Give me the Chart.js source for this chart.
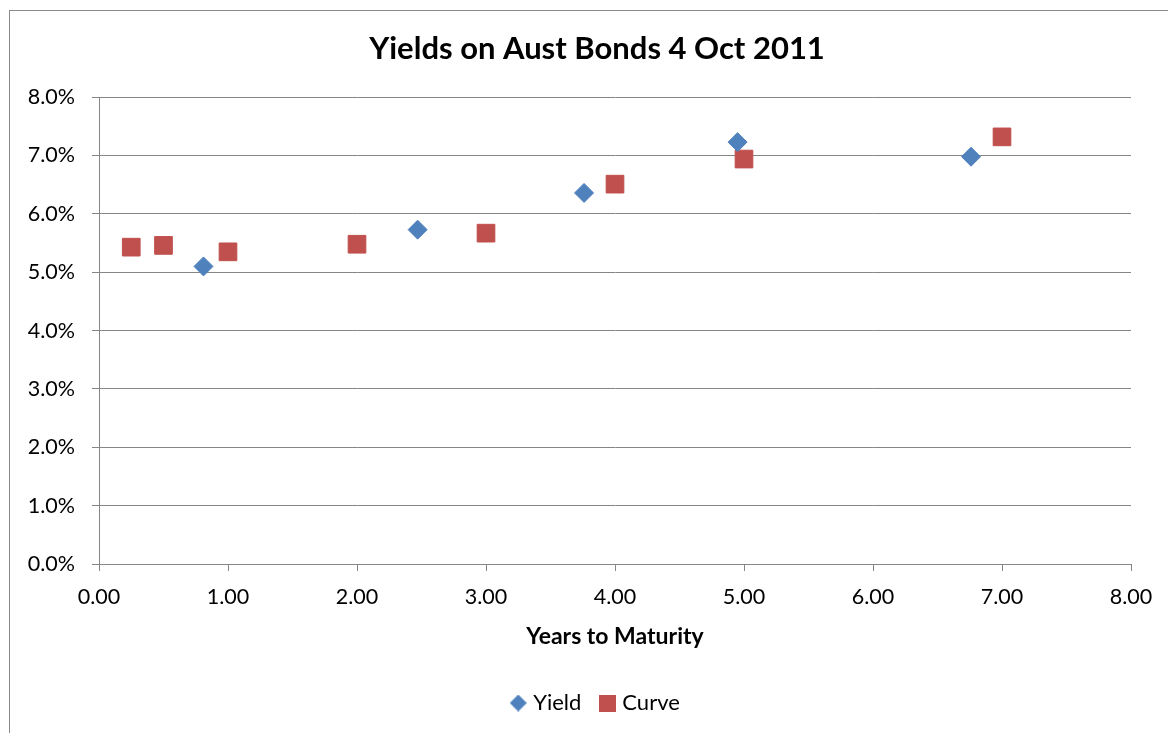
<!DOCTYPE html>
<html>
<head>
<meta charset="utf-8">
<script src="https://cdn.jsdelivr.net/npm/chart.js@4.4.0/dist/chart.umd.min.js"></script>
<style>
  html, body { margin: 0; padding: 0; background: #fff; overflow: hidden; width: 1168px; height: 733px; }
  #box { position: absolute; left: 9px; top: 10px; width: 1176px; height: 740px; border: 1px solid #8a8a8a; background: #fff; }
  #wrap { position: absolute; left: 0; top: 0; width: 1174px; height: 724px; }
</style>
</head>
<body>
<div id="box"><div id="wrap"><canvas id="c"></canvas></div></div>
<script>
// ---- data ----
const yieldX = [0.81, 2.47, 3.76, 4.95, 6.76];
const yieldY = [5.10, 5.73, 6.36, 7.23, 6.98];
const curveX = [0.25, 0.50, 1.00, 2.00, 3.00, 4.00, 5.00, 7.00];
const curveY = [5.43, 5.46, 5.35, 5.48, 5.67, 6.51, 6.94, 7.32];
const xTicks = [0, 1, 2, 3, 4, 5, 6, 7, 8];
const yTicks = [0, 1, 2, 3, 4, 5, 6, 7, 8];
const seriesNames = ['Yield', 'Curve'];
const titleText = 'Yields on Aust Bonds 4 Oct 2011';
const xTitle = 'Years to Maturity';

const BLUE = '#4F81BD';
const RED = '#C0504D';
const GRID = '#868686';
const FAMILY = 'Lato, "Open Sans", sans-serif';

function pairs(xs, ys) { return xs.map((x, i) => ({ x: x, y: ys[i] })); }

function legendIcon(kind, color) {
  const cv = document.createElement('canvas');
  const s = 17;
  cv.width = s; cv.height = s;
  const g = cv.getContext('2d');
  g.fillStyle = color;
  if (kind === 'diamond') {
    g.beginPath();
    g.moveTo(s / 2, 0); g.lineTo(s, s / 2); g.lineTo(s / 2, s); g.lineTo(0, s / 2);
    g.closePath(); g.fill();
  } else {
    g.fillRect(0, 0, s, s);
  }
  return cv;
}
const icons = [legendIcon('diamond', BLUE), legendIcon('square', RED)];

const tickFont = { family: FAMILY, size: 21.5 };

new Chart(document.getElementById('c'), {
  type: 'scatter',
  data: {
    datasets: [
      {
        label: seriesNames[0],
        data: pairs(yieldX, yieldY),
        pointStyle: 'rectRot',
        pointRadius: 9.5,
        backgroundColor: BLUE,
        borderColor: BLUE,
        borderWidth: 1,
        showLine: false
      },
      {
        label: seriesNames[1],
        data: pairs(curveX, curveY),
        pointStyle: 'rect',
        pointRadius: 12.5,
        backgroundColor: RED,
        borderColor: RED,
        borderWidth: 1,
        showLine: false
      }
    ]
  },
  options: {
    responsive: true,
    maintainAspectRatio: false,
    animation: false,
    events: [],
    layout: { padding: { left: 17, right: 17, top: 0, bottom: 11 } },
    plugins: {
      tooltip: { enabled: false },
      title: {
        display: true,
        text: titleText,
        color: '#000',
        font: { family: FAMILY, size: 31, weight: 'bold' },
        padding: { top: 19, bottom: 30 }
      },
      legend: {
        display: true,
        position: 'bottom',
        labels: {
          color: '#000',
          font: { family: FAMILY, size: 22 },
          usePointStyle: true,
          boxWidth: 8,
          boxHeight: 17,
          padding: 22,
          generateLabels: (chart) => chart.data.datasets.map((ds, i) => ({
            text: ds.label,
            fillStyle: ds.backgroundColor,
            strokeStyle: ds.borderColor,
            lineWidth: 0,
            pointStyle: icons[i],
            hidden: false,
            datasetIndex: i,
            fontColor: '#000'
          }))
        }
      }
    },
    scales: {
      x: {
        type: 'linear',
        min: 0,
        max: 8,
        afterBuildTicks: (axis) => { axis.ticks = xTicks.map(v => ({ value: v })); },
        afterFit: (s) => { s.height = 106; },
        ticks: {
          color: '#000',
          font: tickFont,
          padding: 13,
          maxRotation: 0,
          callback: (v) => Number(v).toFixed(2)
        },
        grid: { drawOnChartArea: false, drawTicks: true, tickLength: 7, color: GRID, lineWidth: 1 },
        border: { display: true, color: GRID, width: 1 },
        title: {
          display: true,
          text: xTitle,
          color: '#000',
          font: { family: FAMILY, size: 23, weight: 'bold' },
          padding: { top: 11, bottom: 20 }
        }
      },
      y: {
        type: 'linear',
        position: 'left',
        min: 0,
        max: 8,
        afterBuildTicks: (axis) => { axis.ticks = yTicks.map(v => ({ value: v })); },
        afterFit: (s) => { s.width = 72; },
        ticks: {
          color: '#000',
          font: tickFont,
          padding: 17,
          callback: (v) => Number(v).toFixed(1) + '%'
        },
        grid: { drawOnChartArea: true, drawTicks: true, tickLength: 7, color: GRID, lineWidth: 1 },
        border: { display: true, color: GRID, width: 1 }
      },
      yRight: {
        type: 'linear',
        position: 'right',
        min: 0,
        max: 8,
        afterFit: (s) => { s.width = 36; },
        ticks: { display: false },
        grid: { display: false, drawTicks: false },
        border: { display: false }
      }
    }
  }
});
</script>
</body>
</html>
